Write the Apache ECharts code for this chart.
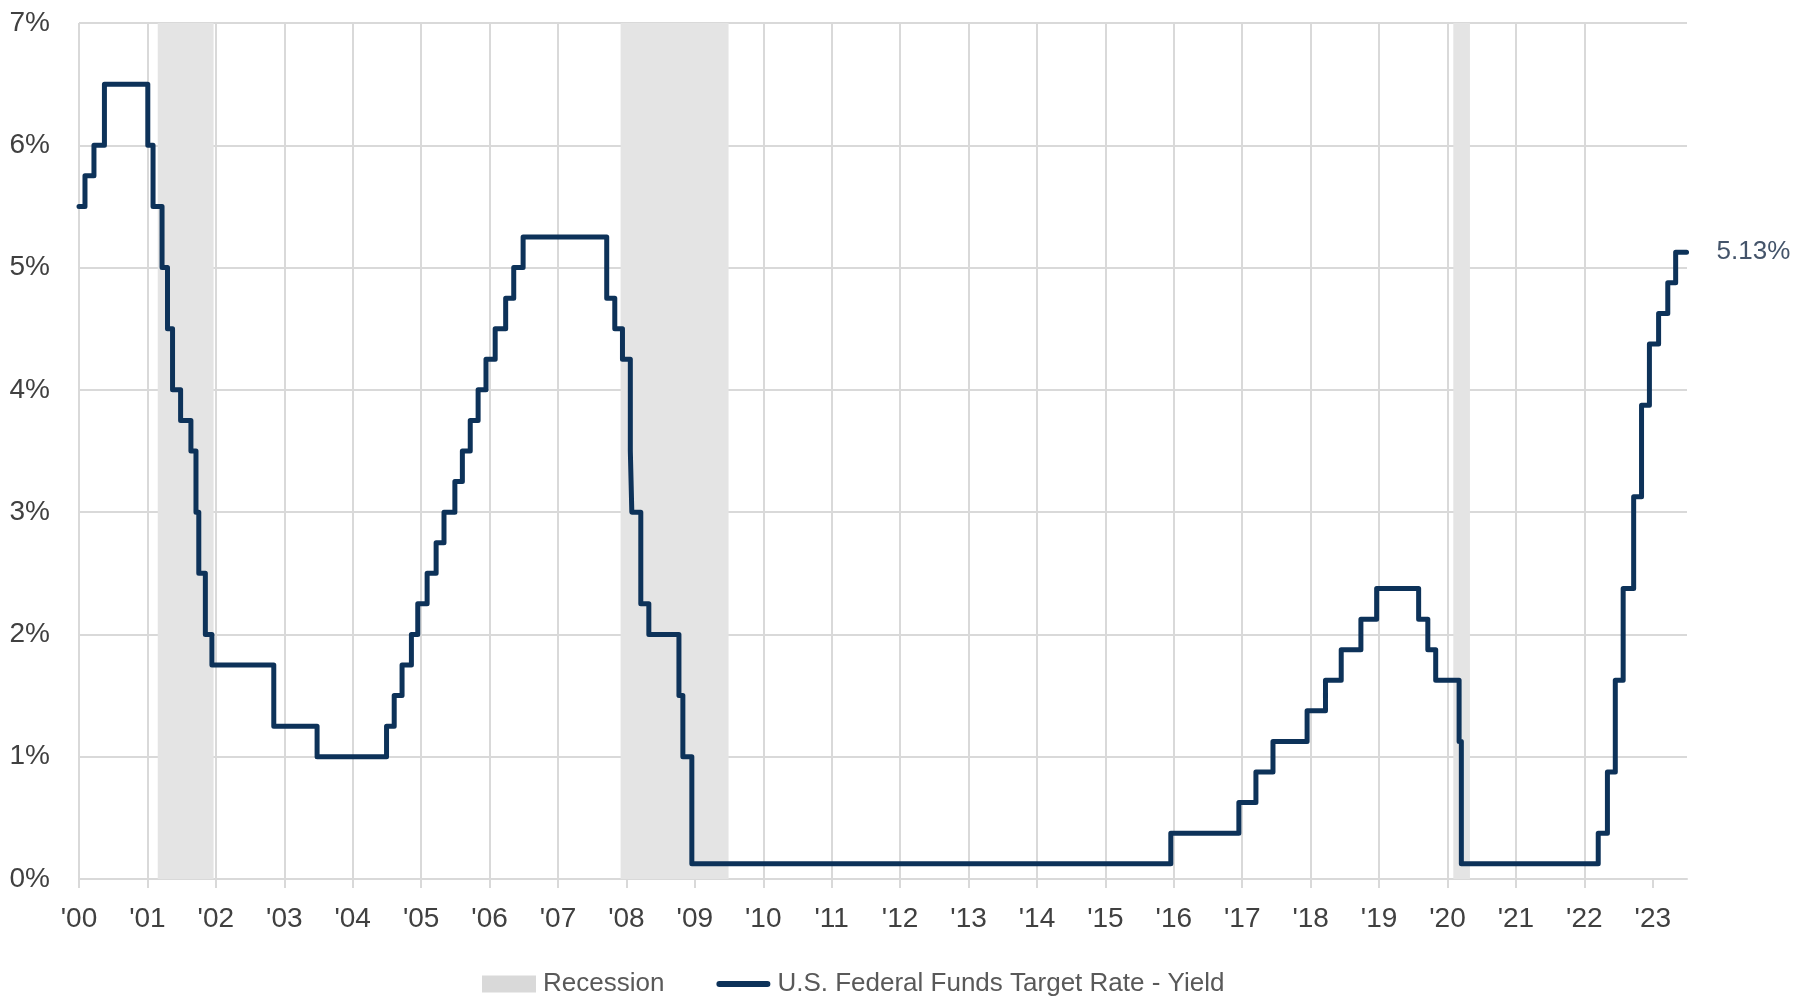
<!DOCTYPE html>
<html>
<head>
<meta charset="utf-8">
<script src="https://cdn.jsdelivr.net/npm/echarts@6/dist/echarts.min.js"></script>
<style>
  html, body { margin: 0; padding: 0; background: #fff; }
  #chart { width: 1809px; height: 998px; }
</style>
</head>
<body>
<div id="chart"></div>
<script>
// fed funds target rate: date of change -> new rate (% , midpoint of range after 2008)
var rateDates = [
    '2000-01-01', '2000-02-02', '2000-03-21', '2000-05-16',
    '2001-01-03', '2001-01-31', '2001-03-20', '2001-04-18', '2001-05-15', '2001-06-27',
    '2001-08-21', '2001-09-17', '2001-10-02', '2001-11-06', '2001-12-11',
    '2002-11-06', '2003-06-25',
    '2004-06-30', '2004-08-10', '2004-09-21', '2004-11-10', '2004-12-14',
    '2005-02-02', '2005-03-22', '2005-05-03', '2005-06-30', '2005-08-09', '2005-09-20',
    '2005-11-01', '2005-12-13',
    '2006-01-31', '2006-03-28', '2006-05-10', '2006-06-29',
    '2007-09-18', '2007-10-31', '2007-12-11',
    '2008-01-22', '2008-01-30', '2008-03-18', '2008-04-30', '2008-10-08', '2008-10-29', '2008-12-16',
    '2015-12-16', '2016-12-14',
    '2017-03-15', '2017-06-14', '2017-12-13',
    '2018-03-21', '2018-06-13', '2018-09-26', '2018-12-19',
    '2019-07-31', '2019-09-18', '2019-10-30',
    '2020-03-03', '2020-03-15',
    '2022-03-16', '2022-05-04', '2022-06-15', '2022-07-27', '2022-09-21', '2022-11-02', '2022-12-14',
    '2023-02-01', '2023-03-22', '2023-05-03', '2023-06-30'
];
var rateValues = [
    5.5, 5.75, 6.0, 6.5,
    6.0, 5.5, 5.0, 4.5, 4.0, 3.75,
    3.5, 3.0, 2.5, 2.0, 1.75,
    1.25, 1.0,
    1.25, 1.5, 1.75, 2.0, 2.25,
    2.5, 2.75, 3.0, 3.25, 3.5, 3.75,
    4.0, 4.25,
    4.5, 4.75, 5.0, 5.25,
    4.75, 4.5, 4.25,
    3.5, 3.0, 2.25, 2.0, 1.5, 1.0, 0.125,
    0.375, 0.625,
    0.875, 1.125, 1.375,
    1.625, 1.875, 2.125, 2.375,
    2.125, 1.875, 1.625,
    1.125, 0.125,
    0.375, 0.875, 1.625, 2.375, 3.125, 3.875, 4.375,
    4.625, 4.875, 5.125, 5.125
];
// NBER recessions
var recessionStart = ['2001-02-25', '2007-12-01', '2020-02-01'];
var recessionEnd = ['2001-12-20', '2009-06-30', '2020-04-30'];
var yearTicks = [2000, 2001, 2002, 2003, 2004, 2005, 2006, 2007, 2008, 2009, 2010, 2011,
    2012, 2013, 2014, 2015, 2016, 2017, 2018, 2019, 2020, 2021, 2022, 2023];

const lineColor = '#0d3259';
const gridColor = '#d9d9d9';
const font = '"Liberation Sans", Arial, sans-serif';

// date string -> decimal year
function decYear(s) {
    let p = s.split('-').map(Number);
    let t0 = Date.UTC(p[0], 0, 1);
    let t1 = Date.UTC(p[0] + 1, 0, 1);
    return p[0] + (Date.UTC(p[0], p[1] - 1, p[2]) - t0) / (t1 - t0);
}

let lineData = rateDates.map((d, i) => [decYear(d), rateValues[i]]);
let areas = recessionStart.map((d, i) => [{ xAxis: decYear(d) }, { xAxis: decYear(recessionEnd[i]) }]);

let option = {
    animation: false,
    grid: {
        left: 79,
        right: 122,
        top: 23,
        bottom: 119
    },
    legend: {
        left: 477,
        top: 966,
        itemGap: 52,
        itemWidth: 54,
        itemHeight: 17,
        textStyle: {
            color: '#595959',
            fontSize: 26,
            fontFamily: font,
            padding: [0, 0, 0, 2]
        },
        data: [{
            name: 'Recession',
            icon: 'rect',
            itemStyle: { color: '#d9d9d9' }
        }, {
            name: 'U.S. Federal Funds Target Rate - Yield',
            icon: 'path://M3,0 L51,0 A3,3 0 0 1 51,6 L3,6 A3,3 0 0 1 3,0 Z',
            itemStyle: { color: lineColor }
        }]
    },
    xAxis: {
        type: 'value',
        min: 2000,
        max: 2023.5,
        interval: 1,
        axisLine: {
            show: true,
            lineStyle: { color: gridColor, width: 2 }
        },
        axisTick: {
            show: true,
            length: 9,
            customValues: yearTicks,
            lineStyle: { color: gridColor, width: 2 }
        },
        axisLabel: {
            customValues: yearTicks,
            margin: 26,
            color: '#404040',
            fontSize: 28,
            fontFamily: font,
            formatter: function(v) {
                return "'" + String(Math.round(v)).slice(2);
            }
        },
        splitLine: {
            show: true,
            showMaxLine: false,
            lineStyle: { color: gridColor, width: 2 }
        }
    },
    yAxis: {
        type: 'value',
        min: 0,
        max: 7,
        interval: 1,
        axisLine: { show: false },
        axisTick: { show: false },
        axisLabel: {
            margin: 29,
            color: '#404040',
            fontSize: 28,
            fontFamily: font,
            formatter: '{value}%'
        },
        splitLine: {
            lineStyle: { color: gridColor, width: 2 }
        }
    },
    series: [{
        name: 'Recession',
        type: 'line',
        data: [],
        itemStyle: { color: '#d9d9d9' },
        markArea: {
            silent: true,
            itemStyle: { color: '#e4e4e4' },
            data: areas
        },
        z: 1
    }, {
        name: 'U.S. Federal Funds Target Rate - Yield',
        type: 'line',
        step: 'end',
        showSymbol: false,
        symbol: 'none',
        data: lineData,
        itemStyle: { color: lineColor },
        lineStyle: {
            color: lineColor,
            width: 5,
            join: 'round',
            cap: 'round'
        },
        endLabel: {
            show: true,
            distance: 30,
            color: '#44546a',
            fontSize: 26,
            fontFamily: font,
            formatter: function(p) {
                return p.value[1].toFixed(2) + '%';
            }
        },
        z: 3
    }]
};

var myChart = echarts.init(document.getElementById('chart'));
myChart.setOption(option);
window.addEventListener('resize', function() {
    myChart.resize();
});
</script>
</body>
</html>
